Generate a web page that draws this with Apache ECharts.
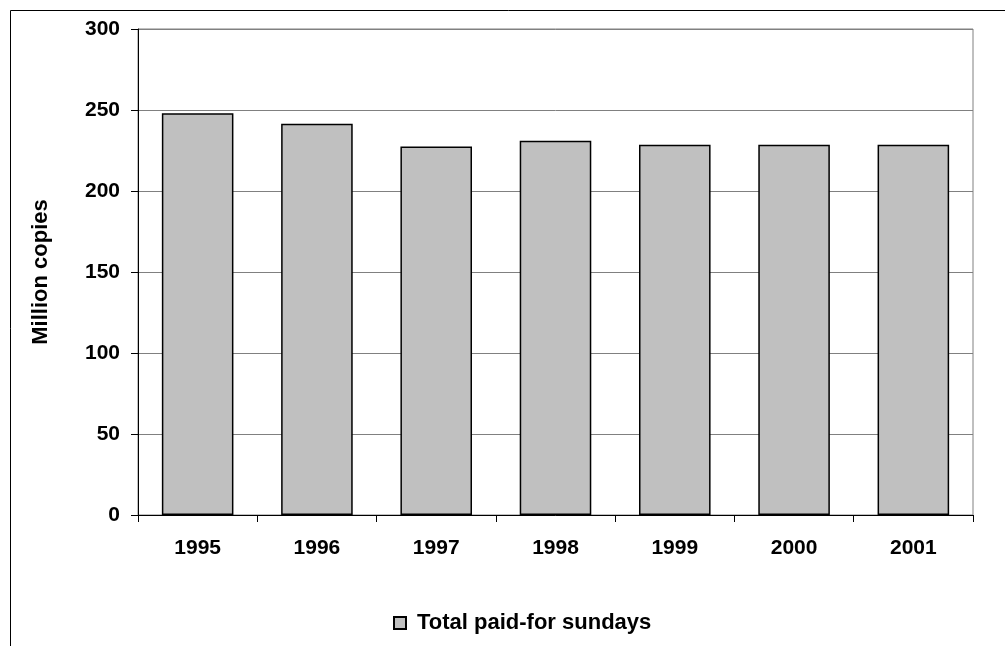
<!DOCTYPE html>
<html>
<head>
<meta charset="utf-8">
<script src="https://cdn.jsdelivr.net/npm/echarts@6/dist/echarts.min.js"></script>
<style>
  html, body { margin: 0; padding: 0; background: #fff; }
  #chart { width: 1005px; height: 646px; }
</style>
</head>
<body>
<div id="chart"></div>
<script>
var years = ['1995', '1996', '1997', '1998', '1999', '2000', '2001'];
var sundays = [248, 241.5, 227.5, 231, 228.5, 228.5, 228.5];
var seriesName = 'Total paid-for sundays';

var font = 'Liberation Sans, Arial, sans-serif';

var myChart = echarts.init(document.getElementById('chart'));

var option = {
  animation: false,
  backgroundColor: '#fff',
  graphic: [{
    type: 'rect',
    shape: { x: 10.5, y: 10.5, width: 1100, height: 700 },
    style: { fill: 'none', stroke: '#000', lineWidth: 1 },
    z: -1
  }],
  grid: {
    left: 138,
    top: 29,
    right: 32,
    bottom: 131,
    show: true,
    borderColor: '#808080',
    borderWidth: 1
  },
  legend: {
    left: 388,
    top: 607,
    itemWidth: 12,
    itemHeight: 12,
    itemGap: 5,
    textStyle: { fontFamily: font, fontSize: 22, fontWeight: 'bold', color: '#000', padding: [0, 0, 0, 6] },
    data: [{ name: seriesName, icon: 'rect' }]
  },
  xAxis: {
    type: 'category',
    data: years,
    axisLine: { lineStyle: { color: '#000', width: 1 } },
    axisTick: { show: true, alignWithLabel: false, length: 7, lineStyle: { color: '#000' } },
    axisLabel: { margin: 23, fontFamily: font, fontSize: 21, fontWeight: 'bold', color: '#000' },
    splitLine: { show: false }
  },
  yAxis: {
    type: 'value',
    min: 0,
    max: 300,
    interval: 50,
    name: 'Million copies',
    nameLocation: 'middle',
    nameRotate: 90,
    nameGap: 86,
    nameTextStyle: { fontFamily: font, fontSize: 22, fontWeight: 'bold', color: '#000' },
    axisLine: { show: true, lineStyle: { color: '#000', width: 1 } },
    axisTick: { show: true, length: 7, lineStyle: { color: '#000' } },
    axisLabel: { margin: 18, fontFamily: font, fontSize: 21, fontWeight: 'bold', color: '#000' },
    splitLine: { show: true, lineStyle: { color: '#808080', width: 1 } }
  },
  series: [{
    name: seriesName,
    type: 'bar',
    data: sundays,
    barWidth: '60%',
    itemStyle: { color: '#c0c0c0', borderColor: '#000', borderWidth: 1.5 }
  }]
};

myChart.setOption(option);
</script>
</body>
</html>
